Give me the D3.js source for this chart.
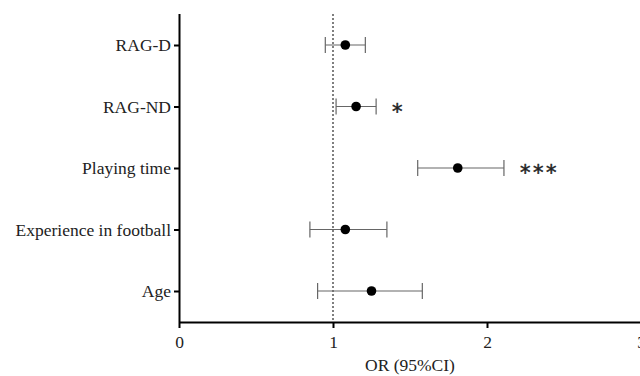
<!DOCTYPE html>
<html><head><meta charset="utf-8">
<script src="https://cdn.jsdelivr.net/npm/d3@7"></script>
<style>body{margin:0;background:#fff}svg{display:block}</style>
</head><body><svg id="c" width="640" height="376"></svg>
<script>
const categories = ["RAG-D","RAG-ND","Playing time","Experience in football","Age"];
const orValues = [1.08, 1.15, 1.81, 1.08, 1.25];
const ciLow = [0.95, 1.02, 1.55, 0.85, 0.90];
const ciHigh = [1.21, 1.28, 2.11, 1.35, 1.58];
const significance = ["", "*", "***", "", ""];
const xTicks = [0, 1, 2, 3];
const xTitle = "OR (95%CI)";

const svg = d3.select("#c");
const font = "'Liberation Serif', 'DejaVu Serif', serif";
const x = d3.scaleLinear().domain([0, 3]).range([179, 641]);
const y = d3.scalePoint().domain(categories).range([45, 291]);
const plotTop = 14, plotBottom = 322;

// reference line at OR=1
svg.append("line").attr("x1", x(1)).attr("x2", x(1)).attr("y1", plotTop).attr("y2", plotBottom)
  .attr("stroke", "#555").attr("stroke-width", 1.5).attr("stroke-dasharray", "2,2");

// x axis
const xa = svg.append("g").attr("transform", `translate(0,${plotBottom})`)
  .call(d3.axisBottom(x).tickValues(xTicks).tickFormat(d3.format("d")).tickSize(6).tickSizeOuter(0));
xa.select(".domain").attr("stroke", "#000").attr("stroke-width", 2);
xa.selectAll(".tick line").attr("stroke", "#000").attr("stroke-width", 2);
xa.selectAll("text").attr("font-family", font).attr("font-size", 17.5).attr("fill", "#222").attr("dy", "0.95em");

// y axis
const ya = svg.append("g").attr("transform", `translate(${x(0)},0)`)
  .call(d3.axisLeft(y).tickSize(5).tickSizeOuter(0));
ya.select(".domain").attr("d", `M0.5,${plotTop}V${plotBottom}`).attr("stroke", "#000").attr("stroke-width", 2);
ya.selectAll(".tick line").attr("stroke", "#000").attr("stroke-width", 2);
ya.selectAll("text").attr("font-family", font).attr("font-size", 17.5).attr("fill", "#222").attr("x", -8);

// error bars
const rows = categories.map((c, i) => ({c, or: orValues[i], lo: ciLow[i], hi: ciHigh[i], s: significance[i]}));
const g = svg.append("g");
g.selectAll(".ci").data(rows).join("line")
  .attr("x1", d => x(d.lo)).attr("x2", d => x(d.hi))
  .attr("y1", d => y(d.c)).attr("y2", d => y(d.c))
  .attr("stroke", "#666").attr("stroke-width", 1.2);
g.selectAll(".capL").data(rows).join("line")
  .attr("x1", d => x(d.lo)).attr("x2", d => x(d.lo))
  .attr("y1", d => y(d.c) - 8).attr("y2", d => y(d.c) + 8)
  .attr("stroke", "#666").attr("stroke-width", 1.2);
g.selectAll(".capR").data(rows).join("line")
  .attr("x1", d => x(d.hi)).attr("x2", d => x(d.hi))
  .attr("y1", d => y(d.c) - 8).attr("y2", d => y(d.c) + 8)
  .attr("stroke", "#666").attr("stroke-width", 1.2);
g.selectAll("circle").data(rows).join("circle")
  .attr("cx", d => x(d.or)).attr("cy", d => y(d.c)).attr("r", 4.8).attr("fill", "#000");

// significance markers
g.selectAll(".sig").data(rows.filter(d => d.s)).join("text")
  .attr("x", d => x(d.hi) + 16).attr("y", d => y(d.c) + 12)
  .attr("font-family", "'DejaVu Sans', sans-serif").attr("font-size", 21)
  .attr("stroke", "#222").attr("stroke-width", 0.5)
  .attr("letter-spacing", 2.5).attr("fill", "#222").text(d => d.s);

// x title
svg.append("text").attr("x", x(1.5)).attr("y", 371).attr("text-anchor", "middle")
  .attr("font-family", font).attr("font-size", 17.5).attr("fill", "#222").text(xTitle);
</script></body></html>
